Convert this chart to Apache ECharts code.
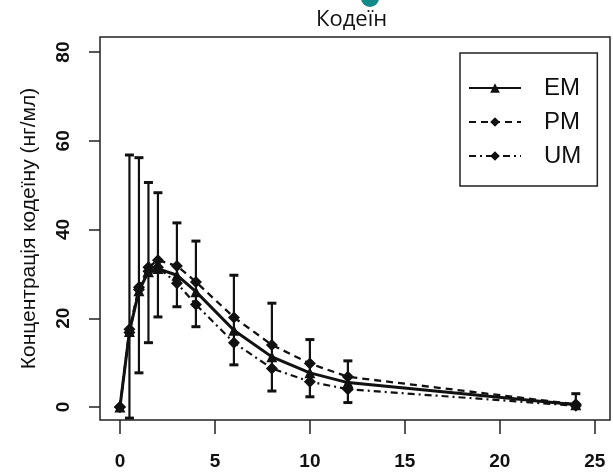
<!DOCTYPE html>
<html>
<head>
<meta charset="utf-8">
<script src="https://cdn.jsdelivr.net/npm/echarts@6/dist/echarts.min.js"></script>
<style>
  html, body { margin: 0; padding: 0; background: #fff; }
  #chart { width: 613px; height: 472px; }
</style>
</head>
<body>
<div id="chart"></div>
<script>
// time points (hours)
const hours = [0, 0.5, 1, 1.5, 2, 3, 4, 6, 8, 10, 12, 24];
// mean codeine concentrations, ng/ml
const emValues = [0, 17, 26.2, 30.5, 31.2, 29.7, 26.0, 17.3, 11.3, 7.7, 5.5, 0.5];
const pmValues = [0, 17.5, 27, 31.5, 33.1, 31.8, 28.2, 20.2, 14.0, 9.8, 6.8, 0.6];
const umValues = [0, 16.8, 26.5, 30.6, 31.5, 27.9, 23.1, 14.5, 8.7, 5.7, 4.0, 0.3];
// error bar ends
const errLow = [null, -2.5, 7.7, 14.5, 20.3, 22.6, 18.1, 9.5, 3.6, 2.3, 1.0, 0.2];
const errHigh = [null, 56.8, 56.2, 50.6, 48.3, 41.5, 37.4, 29.7, 23.4, 15.2, 10.4, 3.0];
const xTicks = [0, 5, 10, 15, 20, 25];
const yTicks = [0, 20, 40, 60, 80];

const chart = echarts.init(document.getElementById('chart'));

const pairs = vals => hours.map((h, i) => [h, vals[i]]);
const errData = hours
  .map((h, i) => [h, errLow[i], errHigh[i]])
  .filter(d => d[1] != null);

const option = {
  backgroundColor: '#fff',
  animation: false,
  title: {
    text: 'Кодеїн',
    left: 311,
    top: 4,
    textStyle: { fontFamily: 'Open Sans', fontSize: 22, fontWeight: 'normal', color: '#111' }
  },
  graphic: [
    { type: 'circle', shape: { cx: 370, cy: -2, r: 9 }, style: { fill: '#138a8a' } }
  ],
  legend: {
    orient: 'vertical',
    left: 460,
    top: 53,
    padding: [23, 16, 18, 8],
    itemWidth: 52,
    itemHeight: 12,
    itemGap: 10,
    borderColor: '#222',
    borderWidth: 1.5,
    textStyle: { fontFamily: 'Liberation Sans', fontSize: 24, color: '#111', padding: [0, 0, 0, 18] },
    data: ['EM', 'PM', 'UM']
  },
  grid: {
    left: 100, right: 3, top: 37, bottom: 52,
    show: true, borderColor: '#222', borderWidth: 1.5
  },
  xAxis: {
    type: 'value',
    min: -1.05,
    max: 25.8,
    axisLine: { show: false, onZero: false },
    splitLine: { show: false },
    axisTick: { show: true, length: 14, customValues: xTicks, lineStyle: { color: '#222', width: 1.5 } },
    axisLabel: {
      customValues: xTicks, margin: 32,
      fontFamily: 'Liberation Sans', fontSize: 19, fontWeight: 'bold', color: '#111'
    }
  },
  yAxis: {
    type: 'value',
    min: -2.93,
    max: 83.4,
    name: 'Концентрація кодеїну (нг/мл)',
    nameLocation: 'middle',
    nameGap: 60,
    nameTextStyle: { fontFamily: 'Liberation Sans', fontSize: 21, color: '#111' },
    axisLine: { show: false, onZero: false },
    splitLine: { show: false },
    axisTick: { show: true, length: 11, customValues: yTicks, lineStyle: { color: '#222', width: 1.5 } },
    axisLabel: {
      customValues: yTicks, rotate: 90, margin: 27,
      fontFamily: 'Liberation Sans', fontSize: 19, fontWeight: 'bold', color: '#111'
    }
  },
  series: [
    {
      name: 'err',
      type: 'custom',
      clip: true,
      data: errData,
      renderItem: (params, api) => {
        const lo = api.coord([api.value(0), api.value(1)]);
        const hi = api.coord([api.value(0), api.value(2)]);
        const w = 4.5;
        const st = { stroke: '#111', lineWidth: 2.2 };
        return {
          type: 'group',
          children: [
            { type: 'line', shape: { x1: lo[0], y1: lo[1], x2: hi[0], y2: hi[1] }, style: st },
            { type: 'line', shape: { x1: lo[0] - w, y1: lo[1], x2: lo[0] + w, y2: lo[1] }, style: { stroke: '#111', lineWidth: 3 } },
            { type: 'line', shape: { x1: hi[0] - w, y1: hi[1], x2: hi[0] + w, y2: hi[1] }, style: { stroke: '#111', lineWidth: 3 } }
          ]
        };
      },
      z: 1
    },
    {
      name: 'PM',
      type: 'line',
      data: pairs(pmValues),
      symbol: 'diamond',
      symbolSize: 12,
      color: '#111',
      lineStyle: { color: '#111', width: 2.3, type: [7, 5] },
      itemStyle: { color: '#111' },
      z: 2
    },
    {
      name: 'UM',
      type: 'line',
      data: pairs(umValues),
      symbol: 'diamond',
      symbolSize: 12,
      color: '#111',
      lineStyle: { color: '#111', width: 2.2, type: [7, 4, 2, 4] },
      itemStyle: { color: '#111' },
      z: 2
    },
    {
      name: 'EM',
      type: 'line',
      data: pairs(emValues),
      symbol: 'triangle',
      symbolSize: 11,
      color: '#111',
      lineStyle: { color: '#111', width: 3 },
      itemStyle: { color: '#111' },
      z: 3
    }
  ]
};

chart.setOption(option);
</script>
</body>
</html>
